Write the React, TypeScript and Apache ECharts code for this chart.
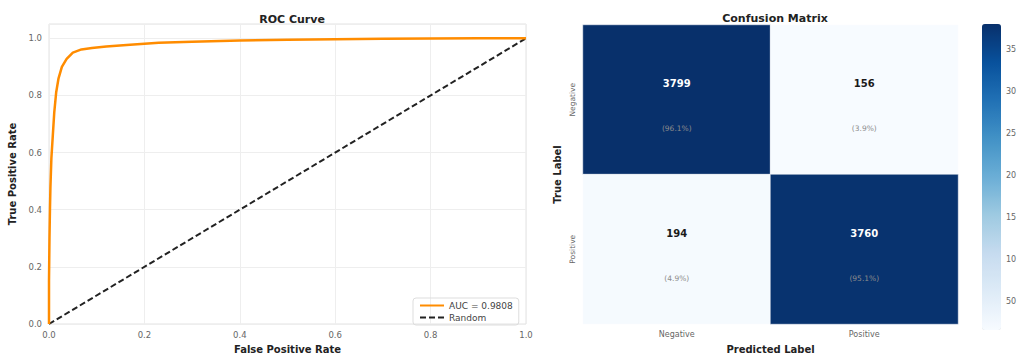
import React, { useEffect, useRef } from "react";
import * as echarts from "echarts";

// ROC curve
const rocFpr = [0, 0, 0.001, 0.002, 0.003, 0.005, 0.008, 0.011, 0.015, 0.02, 0.027, 0.037, 0.05, 0.068, 0.09, 0.12, 0.17, 0.23, 0.3, 0.4, 0.5, 0.6, 0.7, 0.8, 0.9, 1.0];
const rocTpr = [0, 0.15, 0.3, 0.4, 0.48, 0.58, 0.66, 0.74, 0.81, 0.86, 0.9, 0.928, 0.95, 0.961, 0.966, 0.971, 0.977, 0.984, 0.988, 0.992, 0.995, 0.997, 0.998, 0.999, 1.0, 1.0];
const randomX = [0, 1];
const randomY = [0, 1];
const rocLegend = ["AUC = 0.9808", "Random"];

// Confusion matrix
const cmLabels = ["Negative", "Positive"];
const cmCounts = [
  [3799, 156],
  [194, 3760],
];
const cmPercents = [
  ["(96.1%)", "(3.9%)"],
  ["(4.9%)", "(95.1%)"],
];
const colorbarTickValues = [500, 1000, 1500, 2000, 2500, 3000, 3500];
const colorbarTickLabels = ["50", "10", "15", "20", "25", "30", "35"];
const bluesColors = ["#f7fbff", "#deebf7", "#c6dbef", "#9ecae1", "#6baed6", "#4292c6", "#2171b5", "#08519c", "#08306b"];

const FONT = "DejaVu Sans";

export default function App() {
  const ref = useRef<HTMLDivElement>(null);
  useEffect(() => {
    if (!ref.current) return;
    const chart = echarts.init(ref.current, undefined, { renderer: "svg" });
    const allCounts = cmCounts.flat();
    const cmMin = Math.min(...allCounts);
    const cmMax = Math.max(...allCounts);
    const heatData: any[] = [];
    cmCounts.forEach((row, r) => {
      row.forEach((v, c) => {
        heatData.push({ value: [c, r, v], pct: cmPercents[r][c] });
      });
    });
    const option: any = {
      animation: false,
      backgroundColor: "#ffffff",
      textStyle: { fontFamily: FONT },
      title: [
        {
          text: "ROC Curve",
          left: 287,
          top: 9,
          textAlign: "center",
          textStyle: { fontFamily: FONT, fontSize: 11, fontWeight: "bold", color: "#222" },
        },
        {
          text: "Confusion Matrix",
          left: 770,
          top: 8,
          textAlign: "center",
          textStyle: { fontFamily: FONT, fontSize: 11, fontWeight: "bold", color: "#222" },
        },
      ],
      legend: {
        data: [
          { name: rocLegend[0] },
          { name: rocLegend[1] },
        ],
        orient: "vertical",
        left: 413,
        top: 298,
        padding: [3, 6, 3, 6],
        itemGap: 3,
        itemWidth: 24,
        itemHeight: 8,
        itemStyle: { opacity: 0 },
        borderColor: "#dddddd",
        borderWidth: 1,
        borderRadius: 3,
        textStyle: { fontFamily: FONT, fontSize: 9, color: "#444" },
      },
      grid: [
        { left: 49, right: 502, top: 24, bottom: 30, show: true, borderColor: "#e3e3e3", borderWidth: 1 },
        { left: 583, right: 70, top: 25, bottom: 31 },
        { left: 982, width: 19, top: 24, bottom: 29 },
      ],
      xAxis: [
        {
          type: "value",
          gridIndex: 0,
          min: 0,
          max: 1,
          interval: 0.2,
          name: "False Positive Rate",
          nameLocation: "middle",
          nameGap: 20,
          nameTextStyle: { fontFamily: FONT, fontSize: 10, fontWeight: "bold", color: "#222" },
          axisLine: { show: false },
          axisTick: { show: false },
          axisLabel: { fontSize: 8.5, color: "#666", margin: 6, formatter: (v: number) => v.toFixed(1) },
          splitLine: { show: true, lineStyle: { color: "#eeeeee", width: 1 } },
        },
        {
          type: "category",
          gridIndex: 1,
          data: cmLabels,
          name: "Predicted Label",
          nameLocation: "middle",
          nameGap: 20,
          nameTextStyle: { fontFamily: FONT, fontSize: 10, fontWeight: "bold", color: "#222" },
          axisLine: { show: false },
          axisTick: { show: false },
          axisLabel: { fontSize: 8, color: "#666", margin: 6 },
          splitArea: { show: false },
        },
        {
          type: "value",
          gridIndex: 2,
          show: false,
          min: 0,
          max: 1,
        },
      ],
      yAxis: [
        {
          type: "value",
          gridIndex: 0,
          min: 0,
          max: 1.05,
          interval: 0.2,
          name: "True Positive Rate",
          nameLocation: "middle",
          nameGap: 32,
          nameTextStyle: { fontFamily: FONT, fontSize: 10, fontWeight: "bold", color: "#222" },
          axisLine: { show: false },
          axisTick: { show: false },
          axisLabel: {
            fontSize: 8.5,
            color: "#666",
            margin: 7,
            formatter: (v: number) => (Math.abs(v * 5 - Math.round(v * 5)) < 1e-6 ? v.toFixed(1) : ""),
          },
          splitLine: { show: true, lineStyle: { color: "#eeeeee", width: 1 } },
        },
        {
          type: "category",
          gridIndex: 1,
          data: cmLabels,
          inverse: true,
          name: "True Label",
          nameLocation: "middle",
          nameGap: 21,
          nameRotate: 90,
          nameTextStyle: { fontFamily: FONT, fontSize: 10, fontWeight: "bold", color: "#222" },
          axisLine: { show: false },
          axisTick: { show: false },
          axisLabel: { fontSize: 7.5, color: "#666", rotate: 90, margin: 7 },
        },
        {
          type: "value",
          gridIndex: 2,
          position: "right",
          min: cmMin,
          max: cmMax,
          axisLine: { show: false },
          axisTick: { show: true, length: 3, lineStyle: { color: "#888" }, customValues: colorbarTickValues },
          axisLabel: {
            fontSize: 8,
            color: "#666",
            margin: 5,
            customValues: colorbarTickValues,
            formatter: (v: number) => {
              const i = colorbarTickValues.indexOf(v);
              return i >= 0 ? colorbarTickLabels[i] : "";
            },
          },
          splitLine: { show: false },
        },
      ],
      visualMap: {
        type: "continuous",
        min: cmMin,
        max: cmMax,
        seriesIndex: 2,
        calculable: false,
        orient: "vertical",
        left: 982,
        top: 24,
        padding: 0,
        itemWidth: 19,
        itemHeight: 306,
        text: null,
        showLabel: false,
        inRange: { color: bluesColors },
      },
      series: [
        {
          name: rocLegend[0],
          type: "line",
          xAxisIndex: 0,
          yAxisIndex: 0,
          data: rocFpr.map((x, i) => [x, rocTpr[i]]),
          showSymbol: false,
          symbol: "none",
          lineStyle: { color: "#ff8c00", width: 2.5 },
          itemStyle: { color: "#ff8c00" },
          z: 3,
        },
        {
          name: rocLegend[1],
          type: "line",
          xAxisIndex: 0,
          yAxisIndex: 0,
          data: randomX.map((x, i) => [x, randomY[i]]),
          showSymbol: false,
          symbol: "none",
          lineStyle: { color: "#222222", width: 2, type: [6, 3] },
          itemStyle: { color: "#222222" },
          z: 2,
        },
        {
          type: "heatmap",
          xAxisIndex: 1,
          yAxisIndex: 1,
          data: heatData,
          itemStyle: { borderColor: "#ffffff", borderWidth: 0.5 },
          label: {
            show: true,
            offset: [0, 22],
            formatter: (p: any) => {
              const v = p.value[2];
              const dark = v > (cmMin + cmMax) / 2;
              return `{${dark ? "w" : "k"}|${v}}\n{p|${p.data.pct}}`;
            },
            rich: {
              w: { fontFamily: FONT, fontSize: 10, fontWeight: "bold", color: "#ffffff", lineHeight: 14 },
              k: { fontFamily: FONT, fontSize: 10, fontWeight: "bold", color: "#1a1a1a", lineHeight: 14 },
              p: { fontFamily: FONT, fontSize: 7.5, color: "#8c8c8c", lineHeight: 76 },
            },
          },
          emphasis: { disabled: true },
        },
      ],
    };
    chart.setOption(option);
    return () => chart.dispose();
  }, []);
  return (
    <div
      ref={ref}
      style={{ position: "fixed", left: 0, top: 0, width: 1028, height: 359, background: "#fff" }}
    />
  );
}
